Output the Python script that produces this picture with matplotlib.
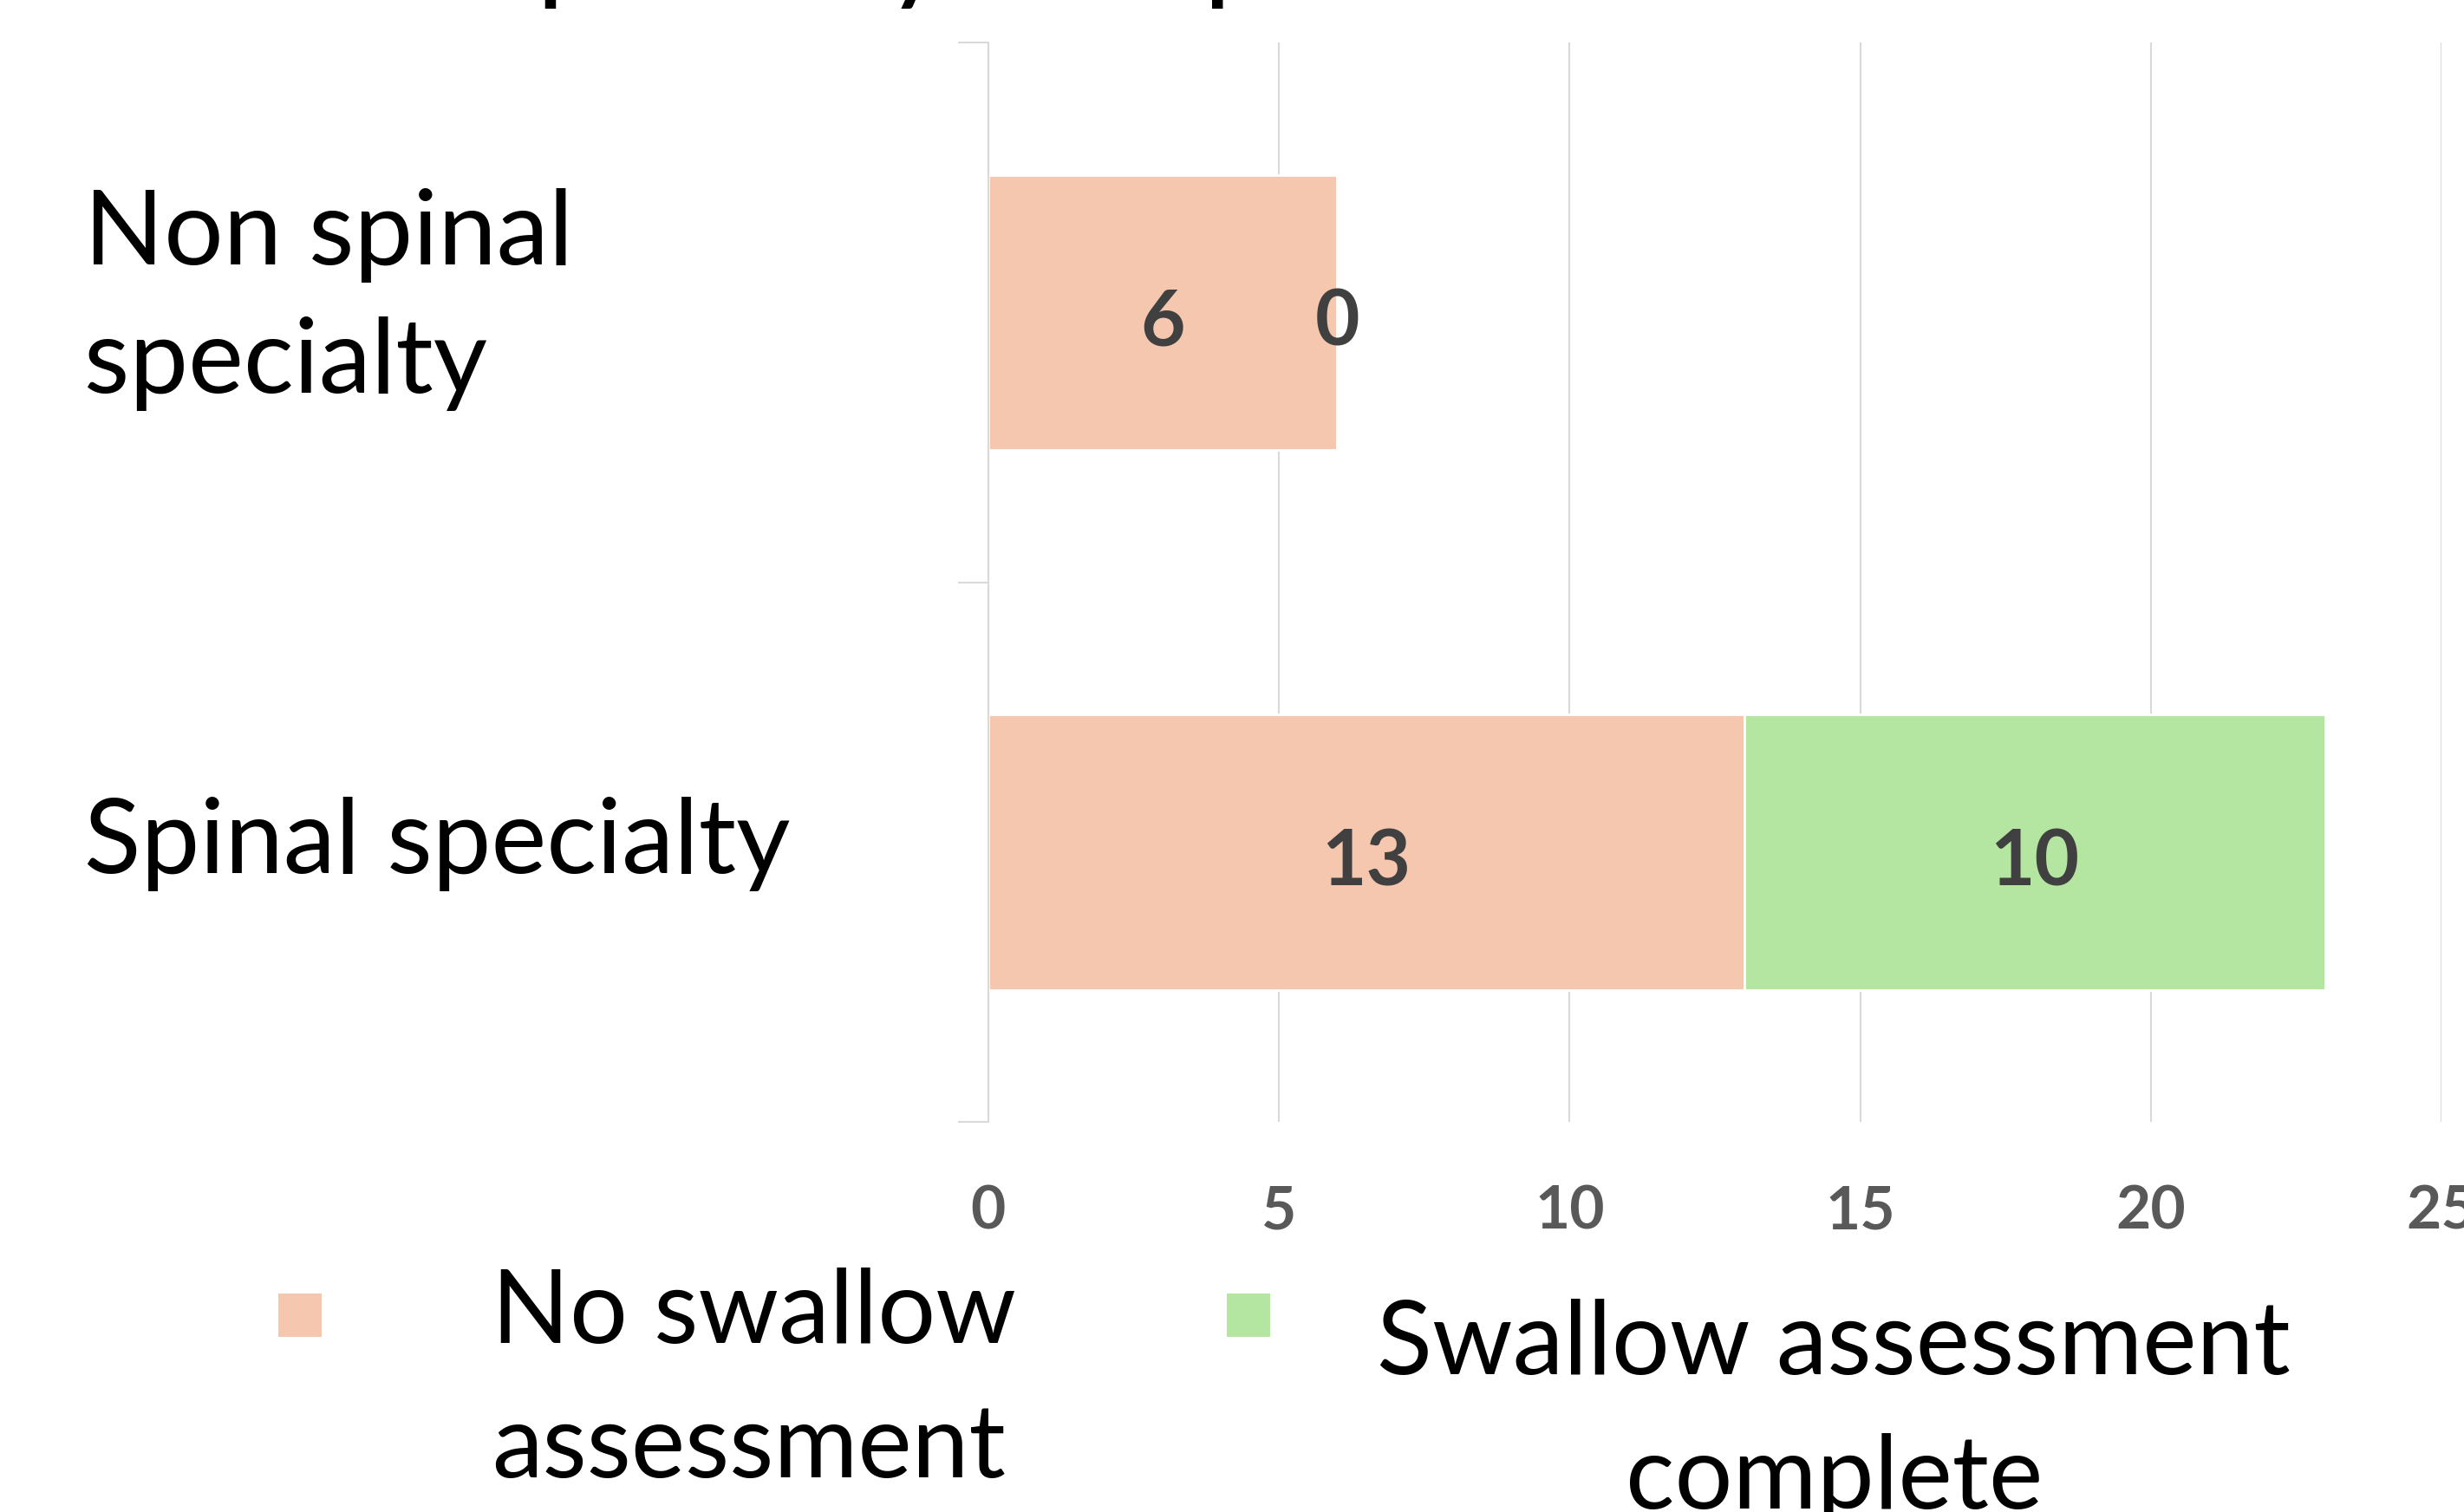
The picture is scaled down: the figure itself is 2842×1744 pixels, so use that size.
import numpy as np
import matplotlib.pyplot as plt
import matplotlib.transforms as mtransforms

categories = ['Spinal specialty', 'Non spinal\nspecialty']
no_swallow = [13, 6]
swallow_done = [10, 0]
series_names = ['No swallow\nassessment', 'Swallow assessment\ncomplete']
xticks = [0, 5, 10, 15, 20, 25]
title = 'Referral specialty compared with swallow assessment'

peach = '#F4C7AE'
green = '#B4E6A2'
grid_c = '#D9D9D9'

plt.rcParams['font.family'] = ['Lato', 'DejaVu Sans']

fig = plt.figure(figsize=(28.42, 17.44), dpi=100)
ax = fig.add_axes([0.4011, 0.258, 0.5898, 0.7139])

y = np.arange(len(categories))
ax.barh(y, no_swallow, height=0.51, color=peach, edgecolor='white', linewidth=2, zorder=2)
ax.barh(y, swallow_done, left=no_swallow, height=0.51, color=green, edgecolor='white', linewidth=2, zorder=2)

# data labels
for i in range(len(categories)):
    ax.text(no_swallow[i] / 2, y[i] - 0.02, str(no_swallow[i]), ha='center', va='center',
            fontsize=64, fontweight='bold', color='#404040', zorder=3)
    ax.text(no_swallow[i] + swallow_done[i] / 2, y[i] - 0.02, str(swallow_done[i]), ha='center', va='center',
            fontsize=64, fontweight='bold', color='#404040', zorder=3)

ax.set_xlim(0, 25)
ax.set_ylim(-0.5, 1.5)
ax.set_xticks(xticks)
ax.set_xticklabels([str(t) for t in xticks], fontsize=50, fontweight='bold', color='#595959')
ax.tick_params(axis='x', length=0, pad=52)
ax.set_yticks([-0.5, 0.5, 1.5])
ax.set_yticklabels([])
ax.tick_params(axis='y', length=25, width=1.5, color=grid_c)
ax.grid(axis='x', color=grid_c, linewidth=1.5, zorder=0)
ax.set_axisbelow(True)
for s in ['top', 'right', 'bottom']:
    ax.spines[s].set_visible(False)
ax.spines['left'].set_color(grid_c)
ax.spines['left'].set_linewidth(1.5)

# category labels, left aligned near the figure edge
blend = mtransforms.blended_transform_factory(fig.transFigure, ax.transData)
ax.text(0.034, y[1] + 0.024, categories[1], transform=blend, ha='left', va='center',
        fontsize=87, linespacing=1.45, color='black')
ax.text(0.034, y[0] + 0.015, categories[0], transform=blend, ha='left', va='center',
        fontsize=87, color='black')

# title, almost entirely above the visible canvas
renderer = fig.canvas.get_renderer()
probe = fig.text(0, 0, 'Referral s', fontsize=100)
w_prefix = probe.get_window_extent(renderer).width
probe.remove()
x0 = (633 - w_prefix - 0.1 * 139) / 2842
fig.text(x0, 1.008, title, ha='left', va='baseline', fontsize=100, color='black')

# legend drawn by hand
for px, col in [(0.113, peach), (0.498, green)]:
    fig.patches.append(plt.Rectangle((px, 0.116), 0.0175, 0.0287, transform=fig.transFigure,
                                     facecolor=col, edgecolor='none'))
fig.text(0.1995, 0.0229, series_names[0], ha='left', va='baseline', fontsize=85, linespacing=1.55)
fig.text(0.7443, 0.0023, series_names[1], ha='center', va='baseline', fontsize=85, linespacing=1.55)

fig.savefig('out.png', dpi=100)
